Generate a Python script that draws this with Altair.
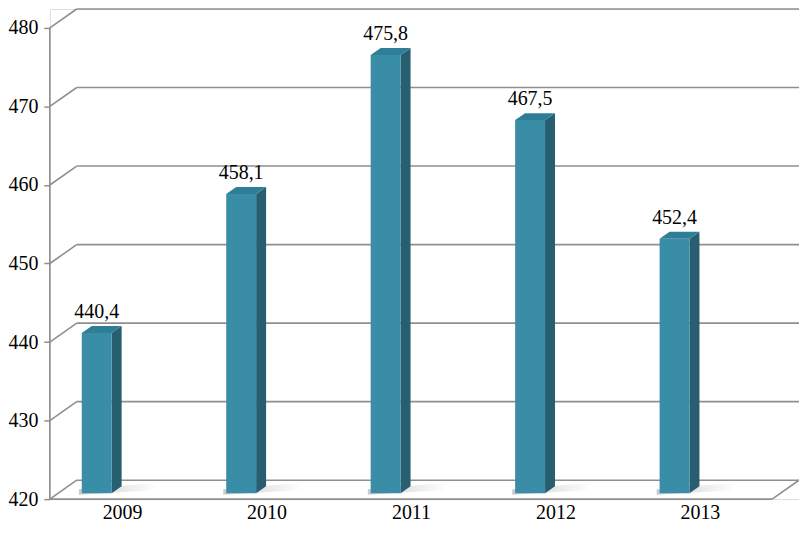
import altair as alt
import pandas as pd

# ---- data ----
years = [2009, 2010, 2011, 2012, 2013]
values = [440.4, 458.1, 475.8, 467.5, 452.4]
y_ticks = [420, 430, 440, 450, 460, 470, 480]

# ---- geometry / style (pseudo-3D offsets in data units) ----
W, H = 752, 492
X_MIN, X_MAX_FRONT = 2008.5, 2013.5
DXB = 0.186          # back wall horizontal shift
DYB = 2.41           # back wall vertical shift
Y_MIN, Y_MAX = 420, 480 + DYB
BAR_L, BAR_R = -0.279, -0.072
BAR_DY0 = 0.76       # bar base above front floor
DEP_X, DEP_Y = 0.069, 0.88   # bar depth
GRID = "#8f8f8f"
FRONT = "#3a8da7"
SIDE = "#285f70"
TOP = "#2f7e97"
FONT = "Liberation Serif"

xs = alt.Scale(domain=[X_MIN, X_MAX_FRONT + DXB], nice=False, zero=False)
ys = alt.Scale(domain=[Y_MIN, Y_MAX], nice=False, zero=False)

# tables built from the arrays
bars = pd.DataFrame({
    "year": years,
    "value": values,
    "x0": [y + BAR_L for y in years],
    "x1": [y + BAR_R for y in years],
    "y0": [Y_MIN + BAR_DY0] * len(years),
    "y1": [v + BAR_DY0 for v in values],
    "lx": [y + (BAR_L + BAR_R) / 2 for y in years],
    "ly": [v + BAR_DY0 + DEP_Y for v in values],
    "label": [f"{v:.1f}".replace(".", ",") for v in values],
})

side_rows, top_rows, shadow_rows = [], [], []
for y, v in zip(years, values):
    xr = y + BAR_R
    side_rows.append({"year": y, "x": xr, "lo": Y_MIN + BAR_DY0, "hi": v + BAR_DY0})
    side_rows.append({"year": y, "x": xr + DEP_X, "lo": Y_MIN + BAR_DY0 + DEP_Y, "hi": v + BAR_DY0 + DEP_Y})
    top_rows.append({"year": y, "y": v + BAR_DY0, "xa": y + BAR_L, "xb": y + BAR_R})
    top_rows.append({"year": y, "y": v + BAR_DY0 + DEP_Y, "xa": y + BAR_L + DEP_X, "xb": y + BAR_R + DEP_X})
    shadow_rows.append({"year": y, "x": y + BAR_L - 0.02, "lo": Y_MIN + BAR_DY0 - 0.2, "hi": Y_MIN + BAR_DY0 + 0.5})
    shadow_rows.append({"year": y, "x": y + BAR_R + 0.32, "lo": Y_MIN + BAR_DY0 + 0.4, "hi": Y_MIN + BAR_DY0 + 1.3})
side = pd.DataFrame(side_rows)
top = pd.DataFrame(top_rows)
shadow = pd.DataFrame(shadow_rows)

grid = pd.DataFrame({
    "x0": [X_MIN + DXB] * len(y_ticks),
    "x1": [X_MAX_FRONT + DXB] * len(y_ticks),
    "y": [t + DYB for t in y_ticks],
})
diag = pd.DataFrame({
    "x0": [X_MIN] * len(y_ticks) + [X_MAX_FRONT],
    "x1": [X_MIN + DXB] * len(y_ticks) + [X_MAX_FRONT + DXB],
    "y0": y_ticks + [Y_MIN],
    "y1": [t + DYB for t in y_ticks] + [Y_MIN + DYB],
})
front = pd.DataFrame({"x0": [X_MIN], "x1": [X_MAX_FRONT], "y": [Y_MIN]})
yaxis_line = pd.DataFrame({"x": [X_MIN], "y0": [Y_MIN], "y1": [y_ticks[-1]]})

x_axis = alt.Axis(values=years, format="d", title=None, domain=False, ticks=False, tickSize=0,
                  grid=False, labelFont=FONT, labelFontSize=20, labelColor="black",
                  labelPadding=3, labelFlush=False, labelOverlap=False)
y_axis = alt.Axis(values=y_ticks, title=None, domain=False, ticks=True, tickSize=6,
                  tickColor=GRID, tickWidth=1.5, grid=False, labelFont=FONT,
                  labelFontSize=20, labelColor="black", labelPadding=6, labelFlush=False)


def X(field):
    return alt.X(field, scale=xs, axis=x_axis)


def Y(field):
    return alt.Y(field, scale=ys, axis=y_axis)


yline_l = alt.Chart(yaxis_line).mark_rule(color=GRID, strokeWidth=1.6).encode(
    x=X("x:Q"), y=Y("y0:Q"), y2="y1:Q")
grid_l = alt.Chart(grid).mark_rule(color=GRID, strokeWidth=1.6).encode(
    x=X("x0:Q"), x2="x1:Q", y=Y("y:Q"))
diag_l = alt.Chart(diag).mark_rule(color=GRID, strokeWidth=1.6).encode(
    x=X("x0:Q"), x2="x1:Q", y=Y("y0:Q"), y2="y1:Q")
front_l = alt.Chart(front).mark_rule(color=GRID, strokeWidth=1.6).encode(
    x=X("x0:Q"), x2="x1:Q", y=Y("y:Q"))

shadow_l = alt.Chart(shadow).mark_area(
    orient="vertical", opacity=0.6,
    color=alt.Gradient(gradient="linear",
                       stops=[alt.GradientStop(color="#a8a8a8", offset=0),
                              alt.GradientStop(color="#d0d0d0", offset=0.45),
                              alt.GradientStop(color="#ffffff", offset=1)],
                       x1=0, x2=1, y1=0, y2=0)).encode(
    x=X("x:Q"), y=Y("lo:Q"), y2="hi:Q", detail="year:N")

front_face = alt.Chart(bars).mark_rect(color=FRONT).encode(
    x=X("x0:Q"), x2="x1:Q", y=Y("y0:Q"), y2="y1:Q")
side_face = alt.Chart(side).mark_area(orient="vertical", color=SIDE).encode(
    x=X("x:Q"), y=Y("lo:Q"), y2="hi:Q", detail="year:N")
top_face = alt.Chart(top).mark_area(orient="horizontal", color=TOP).encode(
    y=Y("y:Q"), x=X("xa:Q"), x2="xb:Q", detail="year:N")
labels = alt.Chart(bars).mark_text(font=FONT, fontSize=20, color="black",
                                   baseline="alphabetic", dy=-8).encode(
    x=X("lx:Q"), y=Y("ly:Q"), text="label:N")

chart = alt.layer(yline_l, grid_l, diag_l, front_l, shadow_l, side_face, top_face,
                  front_face, labels).properties(
    width=W, height=H,
    autosize=alt.AutoSizeParams(type="none"),
    padding={"left": 42, "top": 0, "right": 0, "bottom": 28},
).configure_view(stroke=None).configure(background="white")

chart.save("out.html", embed_options={"renderer": "svg", "actions": False})
